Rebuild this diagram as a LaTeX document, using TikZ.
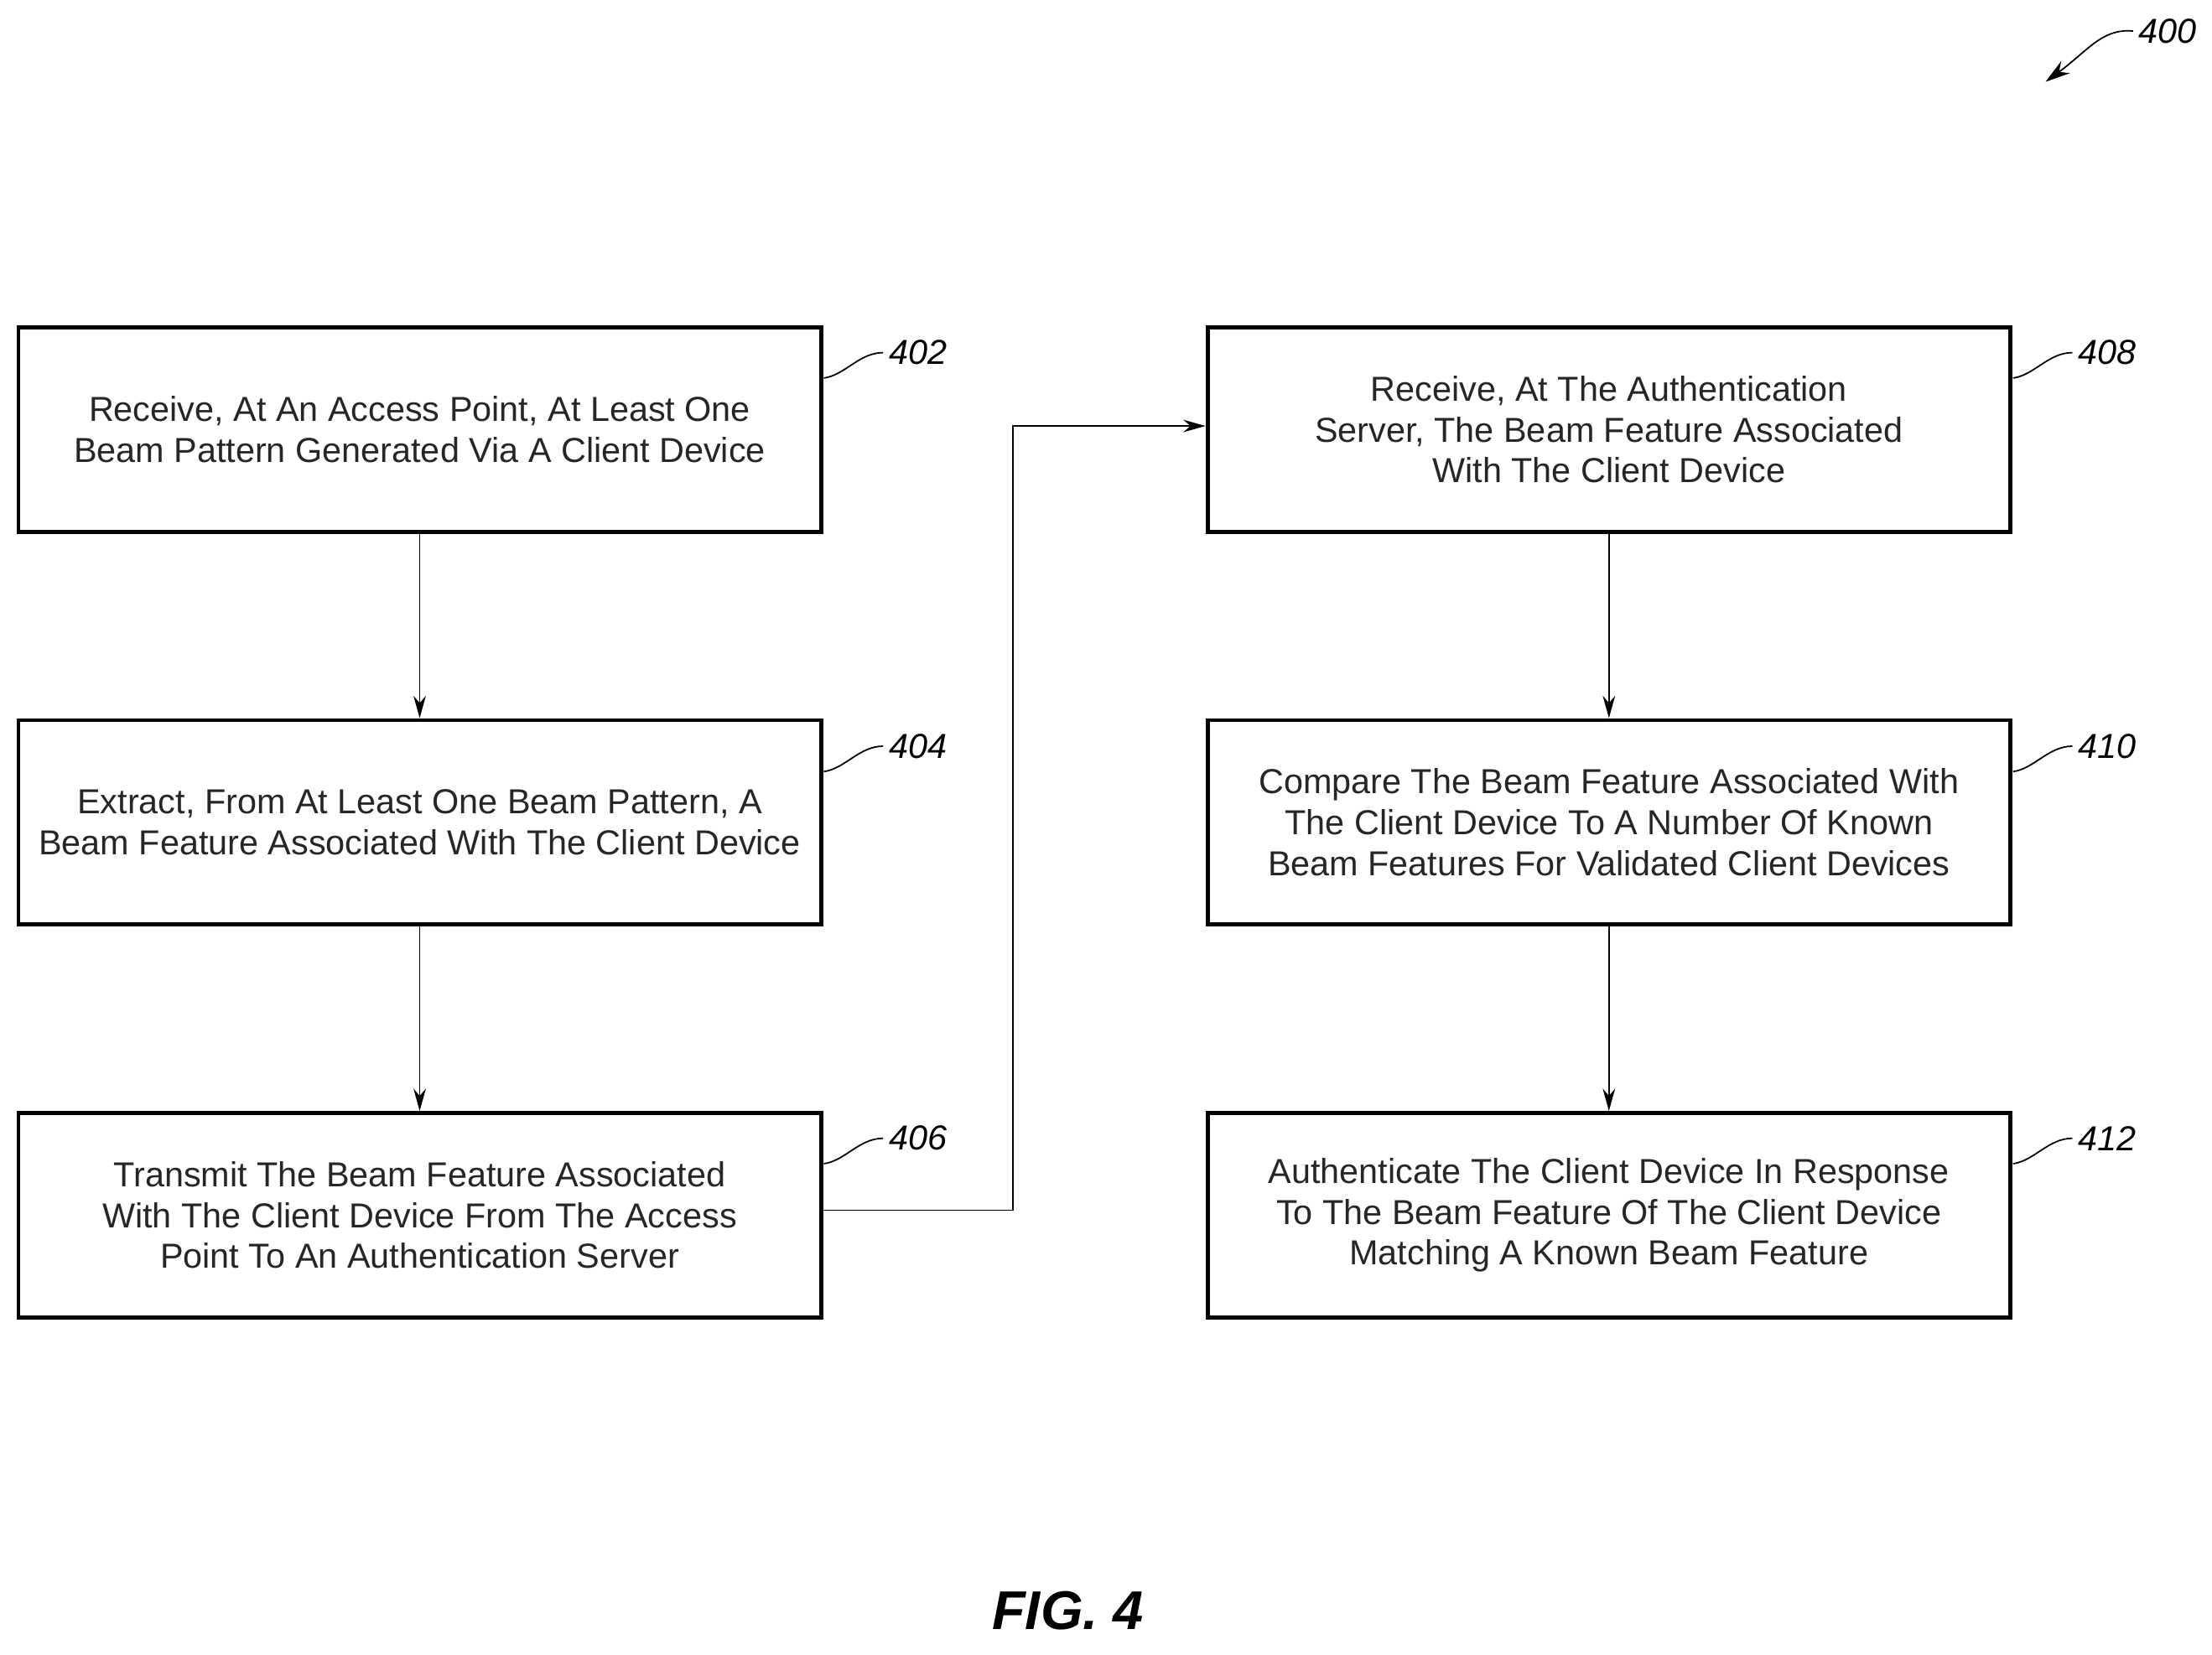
\documentclass[tikz,border=0pt]{standalone}
\usepackage{fontspec}
\setmainfont{Liberation Sans}
\usetikzlibrary{arrows.meta}
\begin{document}
\begin{tikzpicture}[x=0.02cm,y=-0.02cm,
 box/.style={draw,line width=1.6pt,minimum width=569*0.02cm,minimum height=145*0.02cm,align=center,inner sep=0pt,font=\fontsize{14}{16.5}\selectfont,text=black!85},
 arr/.style={-{Stealth[length=9pt,width=5pt]},line width=0.5pt},
 lab/.style={font=\fontsize{14}{16}\selectfont\itshape,anchor=west}]
\useasboundingbox (0,0) rectangle (1568,1173);
\node[box] (b402) at (297.5,304.5) {Receive, At An Access Point, At Least One\\Beam Pattern Generated Via A Client Device};
\node[box] (b404) at (297.5,583) {Extract, From At Least One Beam Pattern, A\\Beam Feature Associated With The Client Device};
\node[box] (b406) at (297.5,861.5) {Transmit The Beam Feature Associated\\With The Client Device From The Access\\Point To An Authentication Server};
\node[box] (b408) at (1140.5,304.5) {Receive, At The Authentication\\Server, The Beam Feature Associated\\With The Client Device};
\node[box] (b410) at (1140.5,583) {Compare The Beam Feature Associated With\\The Client Device To A Number Of Known\\Beam Features For Validated Client Devices};
\node[box] (b412) at (1140.5,861.5) {Authenticate The Client Device In Response\\To The Beam Feature Of The Client Device\\Matching A Known Beam Feature};
\draw[arr] (b402) -- (b404);
\draw[arr] (b404) -- (b406);
\draw[arr] (b408) -- (b410);
\draw[arr] (b410) -- (b412);
\coordinate (k1) at (718,858);
\coordinate (k2) at (718,302);
\draw[arr] (b406.east |- k1) -- (k1) -- (k2) -- (b408.west |- k2);
\foreach \n/\x/\y in {402/584/268,404/584/547,406/584/825,408/1427/268,410/1427/547,412/1427/825}{
 \coordinate (c\n) at (\x,\y);
 \draw[line width=0.6pt] (c\n) .. controls (\x+15,\y-2) and (\x+25,\y-18) .. (\x+42,\y-18);
 \node[lab] (l\n) at (\x+40,\y-18) {\n};
}
\node[lab] (l400) at (1510,22) {400};
\coordinate (c400) at (1512,22);
\coordinate (e400) at (1450,58);
\draw[line width=0.6pt,-{Stealth[length=10pt,width=6pt]}] (c400) .. controls (1490,20) and (1480,36) .. (e400);
\node[font=\fontsize{22}{24}\selectfont\bfseries\itshape] (fig) at (757,1142) {FIG. 4};
\end{tikzpicture}
\end{document}
